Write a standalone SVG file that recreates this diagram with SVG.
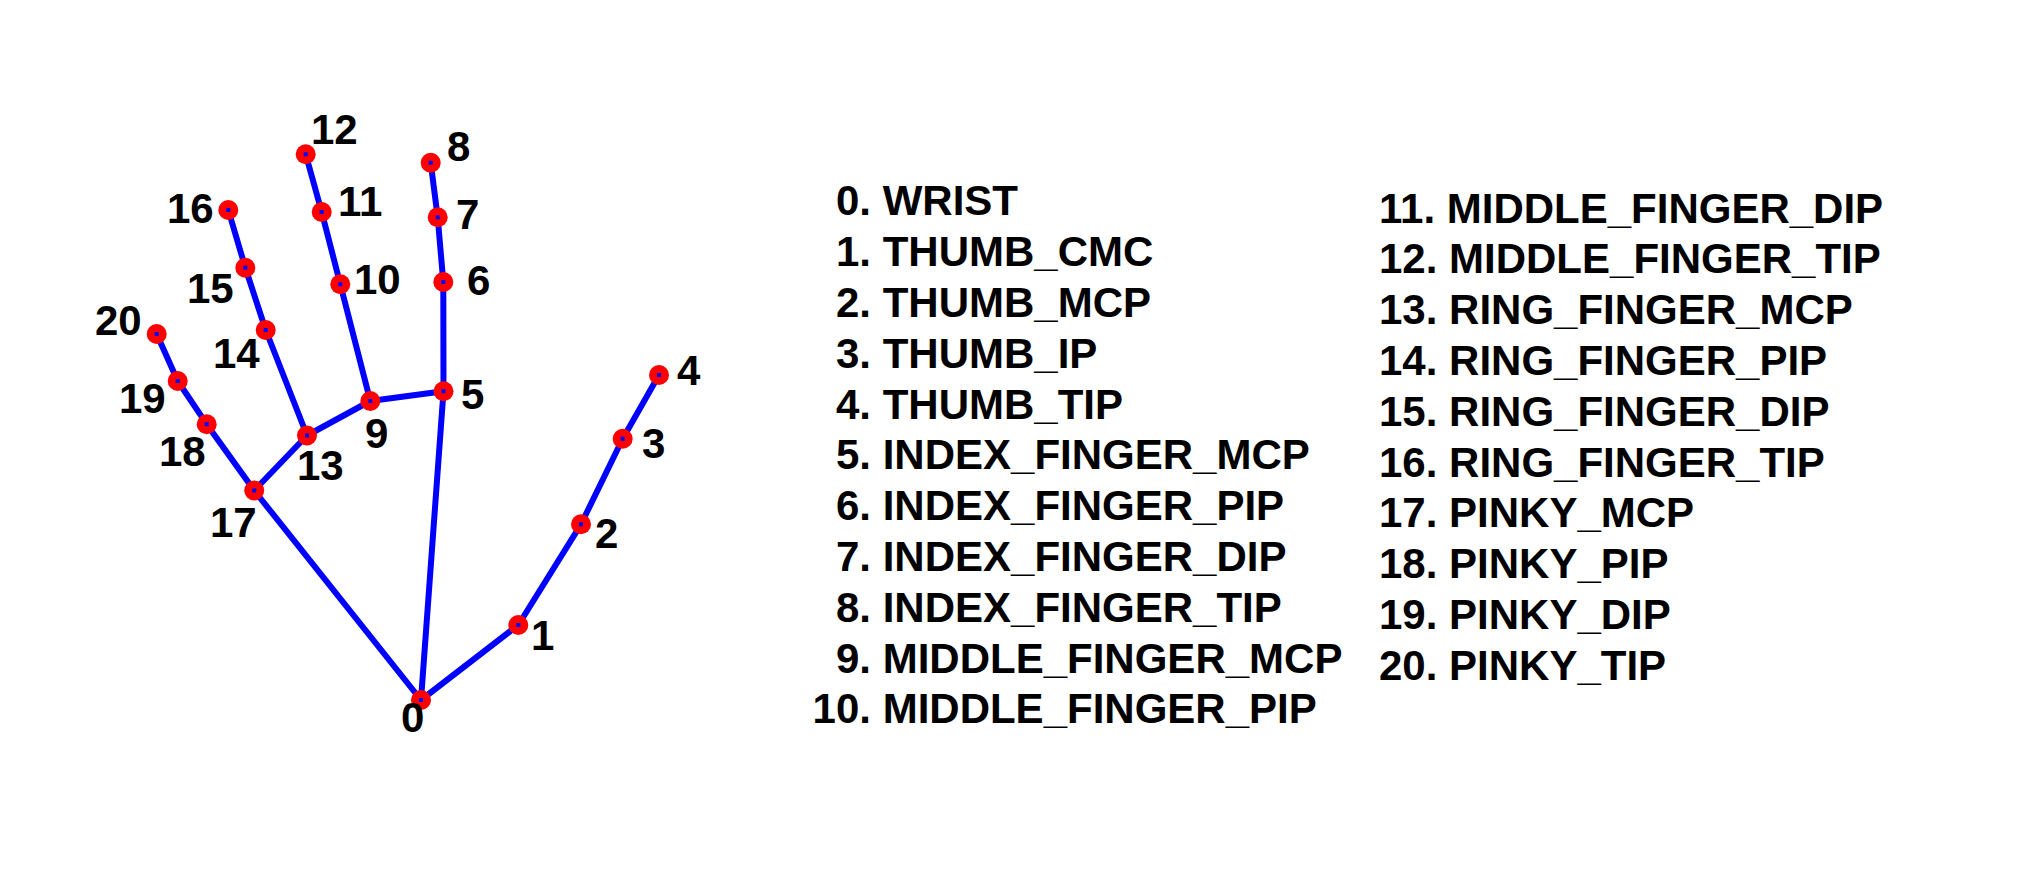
<svg xmlns="http://www.w3.org/2000/svg" width="2042" height="882" viewBox="0 0 2042 882">
<style>
.e{stroke:#0000ff;stroke-width:6;stroke-linecap:round}
.m{fill:#ff0000}
.c{fill:#0000ff}
.l{font-family:"Liberation Sans",Arial,sans-serif;font-weight:bold;font-size:42px;fill:#000}
.t{font-family:"Liberation Sans",Arial,sans-serif;font-weight:bold;font-size:42px;fill:#000}
</style>
<defs>
<g id="mk"><circle r="10" class="m"/><rect x="-2" y="-2" width="4" height="4" class="c"/></g>
</defs>
<rect width="2042" height="882" fill="#fff"/>
<g id="connectors">
<line class="e" x1="421" y1="700" x2="518.3" y2="625"/>
<line class="e" x1="518.3" y1="625" x2="581" y2="524.3"/>
<line class="e" x1="581" y1="524.3" x2="622.7" y2="438.7"/>
<line class="e" x1="622.7" y1="438.7" x2="659" y2="375"/>
<line class="e" x1="421" y1="700" x2="443.5" y2="391.2"/>
<line class="e" x1="443.5" y1="391.2" x2="443.3" y2="282"/>
<line class="e" x1="443.3" y1="282" x2="437.7" y2="217.3"/>
<line class="e" x1="437.7" y1="217.3" x2="430.7" y2="162.7"/>
<line class="e" x1="443.5" y1="391.2" x2="370.3" y2="401"/>
<line class="e" x1="370.3" y1="401" x2="340.3" y2="284.3"/>
<line class="e" x1="340.3" y1="284.3" x2="321.7" y2="212"/>
<line class="e" x1="321.7" y1="212" x2="305.7" y2="154.3"/>
<line class="e" x1="370.3" y1="401" x2="307" y2="435.5"/>
<line class="e" x1="307" y1="435.5" x2="265.7" y2="330"/>
<line class="e" x1="265.7" y1="330" x2="245.3" y2="267.7"/>
<line class="e" x1="245.3" y1="267.7" x2="228.3" y2="210"/>
<line class="e" x1="307" y1="435.5" x2="254.2" y2="490.5"/>
<line class="e" x1="421" y1="700" x2="254.2" y2="490.5"/>
<line class="e" x1="254.2" y1="490.5" x2="206.7" y2="424.2"/>
<line class="e" x1="206.7" y1="424.2" x2="177.7" y2="381"/>
<line class="e" x1="177.7" y1="381" x2="156.7" y2="334"/>
</g>
<g id="n0"><use href="#mk" x="421" y="700"/><text class="l" x="401" y="732">0</text></g>
<g id="n1"><use href="#mk" x="518.3" y="625"/><text class="l" x="531" y="650">1</text></g>
<g id="n2"><use href="#mk" x="581" y="524.3"/><text class="l" x="595" y="548">2</text></g>
<g id="n3"><use href="#mk" x="622.7" y="438.7"/><text class="l" x="642" y="458">3</text></g>
<g id="n4"><use href="#mk" x="659" y="375"/><text class="l" x="677" y="385">4</text></g>
<g id="n5"><use href="#mk" x="443.5" y="391.2"/><text class="l" x="461" y="409">5</text></g>
<g id="n6"><use href="#mk" x="443.3" y="282"/><text class="l" x="467" y="295">6</text></g>
<g id="n7"><use href="#mk" x="437.7" y="217.3"/><text class="l" x="456" y="229">7</text></g>
<g id="n8"><use href="#mk" x="430.7" y="162.7"/><text class="l" x="447" y="161">8</text></g>
<g id="n9"><use href="#mk" x="370.3" y="401"/><text class="l" x="365" y="448">9</text></g>
<g id="n10"><use href="#mk" x="340.3" y="284.3"/><text class="l" x="354" y="294">10</text></g>
<g id="n11"><use href="#mk" x="321.7" y="212"/><text class="l" x="338" y="216">11</text></g>
<g id="n12"><use href="#mk" x="305.7" y="154.3"/><text class="l" x="311" y="144">12</text></g>
<g id="n13"><use href="#mk" x="307" y="435.5"/><text class="l" x="297" y="480">13</text></g>
<g id="n14"><use href="#mk" x="265.7" y="330"/><text class="l" x="213" y="368">14</text></g>
<g id="n15"><use href="#mk" x="245.3" y="267.7"/><text class="l" x="187" y="303">15</text></g>
<g id="n16"><use href="#mk" x="228.3" y="210"/><text class="l" x="167" y="223">16</text></g>
<g id="n17"><use href="#mk" x="254.2" y="490.5"/><text class="l" x="210" y="537">17</text></g>
<g id="n18"><use href="#mk" x="206.7" y="424.2"/><text class="l" x="159" y="466">18</text></g>
<g id="n19"><use href="#mk" x="177.7" y="381"/><text class="l" x="119" y="413">19</text></g>
<g id="n20"><use href="#mk" x="156.7" y="334"/><text class="l" x="95" y="335">20</text></g>
<g id="legend">
<text class="t" x="836" y="215.4">0. WRIST</text>
<text class="t" x="836" y="266.2">1. THUMB_CMC</text>
<text class="t" x="836" y="317">2. THUMB_MCP</text>
<text class="t" x="836" y="367.8">3. THUMB_IP</text>
<text class="t" x="836" y="418.6">4. THUMB_TIP</text>
<text class="t" x="836" y="469.4">5. INDEX_FINGER_MCP</text>
<text class="t" x="836" y="520.2">6. INDEX_FINGER_PIP</text>
<text class="t" x="836" y="571">7. INDEX_FINGER_DIP</text>
<text class="t" x="836" y="621.8">8. INDEX_FINGER_TIP</text>
<text class="t" x="836" y="672.6">9. MIDDLE_FINGER_MCP</text>
<text class="t" x="812.6" y="723.4">10. MIDDLE_FINGER_PIP</text>
<text class="t" x="1379" y="222.5">11. MIDDLE_FINGER_DIP</text>
<text class="t" x="1379" y="273.3">12. MIDDLE_FINGER_TIP</text>
<text class="t" x="1379" y="324.1">13. RING_FINGER_MCP</text>
<text class="t" x="1379" y="374.9">14. RING_FINGER_PIP</text>
<text class="t" x="1379" y="425.7">15. RING_FINGER_DIP</text>
<text class="t" x="1379" y="476.5">16. RING_FINGER_TIP</text>
<text class="t" x="1379" y="527.3">17. PINKY_MCP</text>
<text class="t" x="1379" y="578.1">18. PINKY_PIP</text>
<text class="t" x="1379" y="628.9">19. PINKY_DIP</text>
<text class="t" x="1379" y="679.7">20. PINKY_TIP</text>
</g>
</svg>
